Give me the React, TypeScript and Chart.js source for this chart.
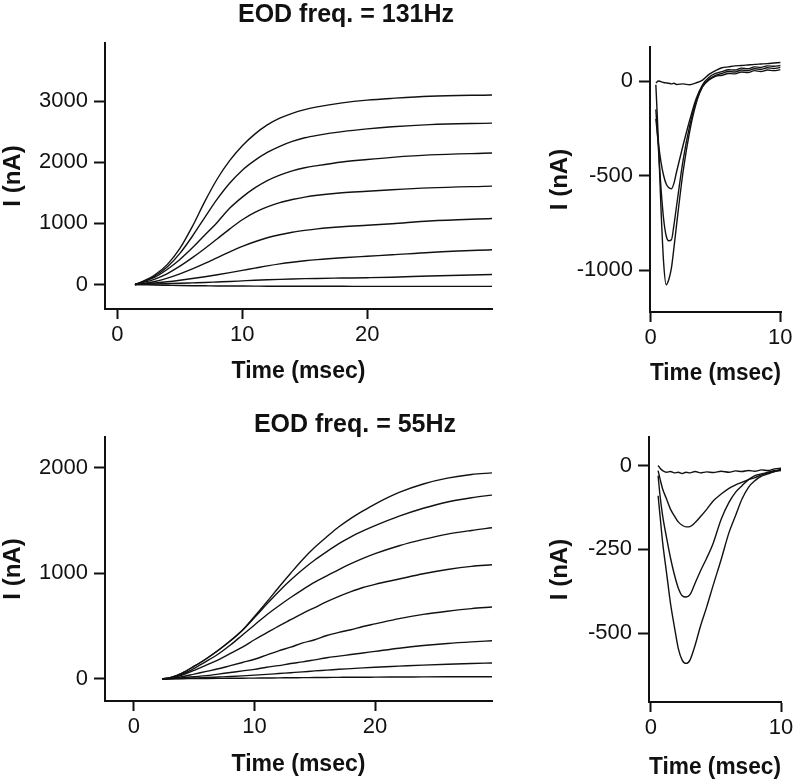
import React, { useEffect, useRef } from 'react';
import { Chart, registerables } from 'chart.js';

Chart.register(...registerables);

const FONT = "'Liberation Sans', Arial, Helvetica, sans-serif";
const INK = '#111';

// ---------- Top-left: EOD freq. = 131Hz (charging currents) ----------
const TL_TIME = [1.4, 2, 3, 4, 5, 6, 7, 8, 9, 10, 11, 12, 13, 14, 15, 16, 18, 20, 22, 25, 30];
const TL_S1 = [0, 50, 160, 330, 590, 950, 1360, 1730, 2030, 2270, 2460, 2610, 2720, 2800, 2860, 2905, 2970, 3015, 3045, 3080, 3100];
const TL_S2 = [0, 45, 140, 290, 510, 790, 1100, 1400, 1660, 1870, 2030, 2160, 2260, 2340, 2400, 2440, 2500, 2545, 2580, 2615, 2640];
const TL_S3 = [0, 40, 120, 250, 410, 600, 810, 1020, 1250, 1430, 1580, 1700, 1790, 1860, 1910, 1945, 2005, 2045, 2080, 2120, 2150];
const TL_S4 = [0, 30, 90, 180, 300, 440, 590, 750, 910, 1060, 1180, 1270, 1340, 1390, 1430, 1460, 1500, 1525, 1550, 1580, 1610];
const TL_S5 = [0, 15, 50, 105, 175, 255, 345, 440, 535, 625, 700, 765, 815, 855, 885, 910, 945, 970, 995, 1040, 1080];
const TL_S6 = [0, 8, 25, 45, 70, 98, 128, 160, 195, 232, 268, 305, 338, 365, 388, 407, 437, 462, 486, 525, 570];
const TL_S7 = [0, 3, 8, 14, 20, 27, 34, 42, 50, 60, 70, 78, 85, 91, 96, 100, 106, 112, 120, 140, 165];
const TL_S8 = [0, -3, -8, -12, -16, -19, -21, -23, -24, -25, -26, -27, -27, -28, -28, -29, -29, -30, -30, -30, -30];
const TL_X_TICKS = [0, 10, 20];
const TL_Y_TICKS = [0, 1000, 2000, 3000];

// ---------- Bottom-left: EOD freq. = 55Hz ----------
const BL_TIME = [2.35, 3, 4, 5, 6, 7, 8, 9, 10, 11, 12, 13, 14, 15, 16, 17, 18, 19, 20, 22, 24, 26, 28, 29.7];
const BL_S1 = [0, 10, 55, 120, 190, 270, 360, 460, 590, 725, 865, 1000, 1130, 1245, 1345, 1440, 1520, 1590, 1655, 1765, 1845, 1900, 1935, 1950];
const BL_S2 = [0, 10, 55, 120, 190, 270, 360, 460, 580, 705, 825, 935, 1035, 1125, 1205, 1280, 1345, 1400, 1450, 1540, 1615, 1675, 1715, 1740];
const BL_S3 = [0, 8, 45, 100, 165, 235, 320, 415, 510, 605, 690, 770, 845, 915, 975, 1035, 1090, 1140, 1185, 1260, 1320, 1370, 1405, 1430];
const BL_S4 = [0, 5, 35, 80, 130, 180, 240, 300, 370, 435, 500, 560, 620, 675, 730, 780, 825, 865, 895, 945, 995, 1035, 1065, 1080];
const BL_S5 = [0, 3, 20, 45, 70, 95, 125, 155, 185, 225, 265, 300, 340, 370, 410, 440, 465, 495, 520, 570, 610, 640, 665, 680];
const BL_S6 = [0, 2, 10, 20, 30, 45, 60, 75, 90, 110, 125, 145, 160, 180, 200, 215, 230, 245, 260, 290, 315, 335, 350, 360];
const BL_S7 = [0, 1, 4, 8, 12, 17, 22, 28, 35, 42, 50, 58, 66, 75, 82, 90, 97, 104, 110, 120, 130, 138, 145, 150];
const BL_S8 = [0, 0, 1, 2, 3, 4, 5, 6, 7, 8, 9, 10, 11, 12, 13, 14, 15, 15, 16, 17, 18, 19, 20, 20];
const BL_X_TICKS = [0, 10, 20];
const BL_Y_TICKS = [0, 1000, 2000];

// ---------- Top-right: discharge currents (131Hz) ----------
const TR_TIME = [0.4, 0.6, 0.8, 1.0, 1.2, 1.4, 1.6, 1.8, 2.0, 2.5, 3.0, 3.5, 4.0, 4.5, 5, 5.5, 6, 6.5, 7, 7.5, 8, 8.5, 9, 9.5, 10];
const TR_S1 = [-20, -320, -680, -960, -1078, -1050, -990, -880, -760, -480, -270, -120, -30, 5, 25, 30, 40, 38, 48, 45, 55, 50, 58, 55, 60];
const TR_S2 = [-150, -360, -570, -730, -820, -845, -840, -760, -660, -420, -240, -110, -30, 10, 30, 40, 50, 48, 58, 55, 65, 62, 70, 66, 72];
const TR_S3 = [-200, -330, -430, -500, -545, -565, -570, -540, -480, -340, -210, -95, -20, 20, 40, 50, 60, 58, 68, 65, 75, 72, 80, 78, 82];
const TR_S4 = [-10, 0, -3, -8, -10, -12, -15, -12, -18, -15, -20, -10, 5, 35, 55, 70, 75, 80, 82, 85, 88, 90, 92, 95, 98];
const TR_X_TICKS = [0, 10];
const TR_Y_TICKS = [-1000, -500, 0];

// ---------- Bottom-right: discharge currents (55Hz) ----------
const BR_TIME = [0.55, 0.7, 0.9, 1.2, 1.5, 1.8, 2.1, 2.4, 2.7, 3.0, 3.4, 3.8, 4.3, 4.8, 5.4, 6.0, 6.5, 7.0, 7.5, 8.0, 8.5, 9.0, 9.5, 10.0];
const BR_S1 = [-90, -150, -230, -320, -410, -480, -545, -580, -590, -580, -535, -480, -420, -355, -280, -200, -150, -100, -65, -45, -32, -25, -18, -15];
const BR_S2 = [-30, -90, -150, -215, -275, -325, -365, -388, -392, -385, -350, -315, -275, -230, -160, -110, -80, -60, -42, -30, -25, -20, -15, -12];
const BR_S3 = [-15, -40, -70, -100, -130, -150, -168, -178, -183, -182, -170, -153, -130, -105, -85, -68, -58, -50, -42, -36, -28, -22, -18, -12];
const BR_S4 = [0, -8, -15, -20, -18, -22, -20, -24, -20, -22, -18, -22, -19, -21, -17, -20, -16, -18, -15, -17, -13, -15, -10, -8];
const BR_X_TICKS = [0, 10];
const BR_Y_TICKS = [-500, -250, 0];

type PanelCfg = {
  left: number; top: number; width: number; height: number;
  padTop: number; padRight: number;
  yWidth: number; xHeight: number;
  xMin: number; xMax: number; yMin: number; yMax: number;
  xTicks: number[]; yTicks: number[];
  time: number[]; series: number[][];
  yTitlePad: number; xTitlePad: number;
};

const PANELS: PanelCfg[] = [
  {
    left: 0, top: 0, width: 540, height: 390, padTop: 43, padRight: 48, yWidth: 105, xHeight: 81,
    xMin: -1, xMax: 30, yMin: -400, yMax: 3950, xTicks: TL_X_TICKS, yTicks: TL_Y_TICKS,
    time: TL_TIME, series: [TL_S1, TL_S2, TL_S3, TL_S4, TL_S5, TL_S6, TL_S7, TL_S8],
    yTitlePad: 1, xTitlePad: 7,
  },
  {
    left: 0, top: 390, width: 540, height: 389, padTop: 47, padRight: 48, yWidth: 105, xHeight: 78,
    xMin: -2.4, xMax: 29.7, yMin: -210, yMax: 2290, xTicks: BL_X_TICKS, yTicks: BL_Y_TICKS,
    time: BL_TIME, series: [BL_S1, BL_S2, BL_S3, BL_S4, BL_S5, BL_S6, BL_S7, BL_S8],
    yTitlePad: 1, xTitlePad: 3,
  },
  {
    left: 540, top: 0, width: 253, height: 390, padTop: 47, padRight: 12, yWidth: 110, xHeight: 78,
    xMin: -0.05, xMax: 10.05, yMin: -1222, yMax: 180, xTicks: TR_X_TICKS, yTicks: TR_Y_TICKS,
    time: TR_TIME, series: [TR_S1, TR_S2, TR_S3, TR_S4],
    yTitlePad: 8, xTitlePad: 5,
  },
  {
    left: 540, top: 390, width: 253, height: 389, padTop: 47, padRight: 12, yWidth: 109, xHeight: 77,
    xMin: -0.15, xMax: 10, yMin: -705, yMax: 85, xTicks: BR_X_TICKS, yTicks: BR_Y_TICKS,
    time: BR_TIME, series: [BR_S1, BR_S2, BR_S3, BR_S4],
    yTitlePad: 8, xTitlePad: 0,
  },
];

function Panel({ cfg }: { cfg: PanelCfg }) {
  const ref = useRef<HTMLCanvasElement | null>(null);
  useEffect(() => {
    if (!ref.current) return;
    const datasets = cfg.series.map((vals) => ({
      data: vals.map((v, i) => ({ x: cfg.time[i], y: v })),
      borderColor: INK,
      borderWidth: 1.4,
      pointRadius: 0,
      fill: false,
      cubicInterpolationMode: 'monotone' as const,
    }));
    const tickFont = { family: FONT, size: 22 };
    const titleFont = { family: FONT, size: 23, weight: 'bold' as const, lineHeight: 1 };
    const plain = (v: any) => String(v);
    const chart = new Chart(ref.current, {
      type: 'line',
      data: { datasets },
      options: {
        animation: false,
        responsive: false,
        maintainAspectRatio: false,
        events: [],
        layout: { padding: { left: 0, top: cfg.padTop, right: cfg.padRight, bottom: 0 } },
        plugins: { legend: { display: false }, tooltip: { enabled: false }, title: { display: false } },
        scales: {
          x: {
            type: 'linear',
            min: cfg.xMin,
            max: cfg.xMax,
            afterBuildTicks: (s: any) => { s.ticks = cfg.xTicks.map((v) => ({ value: v })); },
            afterFit: (s: any) => { s.height = cfg.xHeight; s.paddingLeft = 0; s.paddingRight = 0; },
            grid: { display: true, drawOnChartArea: false, drawTicks: true, tickLength: 10, tickWidth: 2, color: INK, tickColor: INK },
            border: { display: true, width: 2, color: INK },
            ticks: { color: INK, font: tickFont, padding: 3, maxRotation: 0, autoSkip: false, callback: plain },
            title: { display: true, text: 'Time (msec)', color: INK, font: titleFont, padding: { top: 0, bottom: cfg.xTitlePad } },
          },
          y: {
            type: 'linear',
            min: cfg.yMin,
            max: cfg.yMax,
            afterBuildTicks: (s: any) => { s.ticks = cfg.yTicks.map((v) => ({ value: v })); },
            afterFit: (s: any) => { s.width = cfg.yWidth; s.paddingTop = 0; s.paddingBottom = 0; },
            grid: { display: true, drawOnChartArea: false, drawTicks: true, tickLength: 11, tickWidth: 2, color: INK, tickColor: INK },
            border: { display: true, width: 2, color: INK },
            ticks: { color: INK, font: tickFont, padding: 6, autoSkip: false, callback: plain },
            title: { display: true, text: 'I (nA)', color: INK, font: { ...titleFont, size: 24 }, padding: { top: cfg.yTitlePad, bottom: 0 } },
          },
        },
      },
    });
    return () => chart.destroy();
  }, [cfg]);
  return (
    <canvas
      ref={ref}
      width={cfg.width}
      height={cfg.height}
      style={{ position: 'absolute', left: cfg.left, top: cfg.top, width: cfg.width, height: cfg.height }}
    />
  );
}

const TITLES = [
  { text: 'EOD freq. = 131Hz', x: 346, y: 13 },
  { text: 'EOD freq. = 55Hz', x: 355, y: 423 },
];

export default function App() {
  return (
    <div style={{ position: 'fixed', left: 0, top: 0, width: 793, height: 779, background: '#fff', overflow: 'hidden' }}>
      {PANELS.map((p, i) => (
        <Panel key={i} cfg={p} />
      ))}
      {TITLES.map((t, i) => (
        <div
          key={i}
          style={{
            position: 'absolute', left: t.x, top: t.y, transform: 'translate(-50%, -50%)',
            fontFamily: FONT, fontWeight: 'bold', fontSize: 25, lineHeight: '25px', color: INK, whiteSpace: 'nowrap',
          }}
        >
          {t.text}
        </div>
      ))}
    </div>
  );
}
